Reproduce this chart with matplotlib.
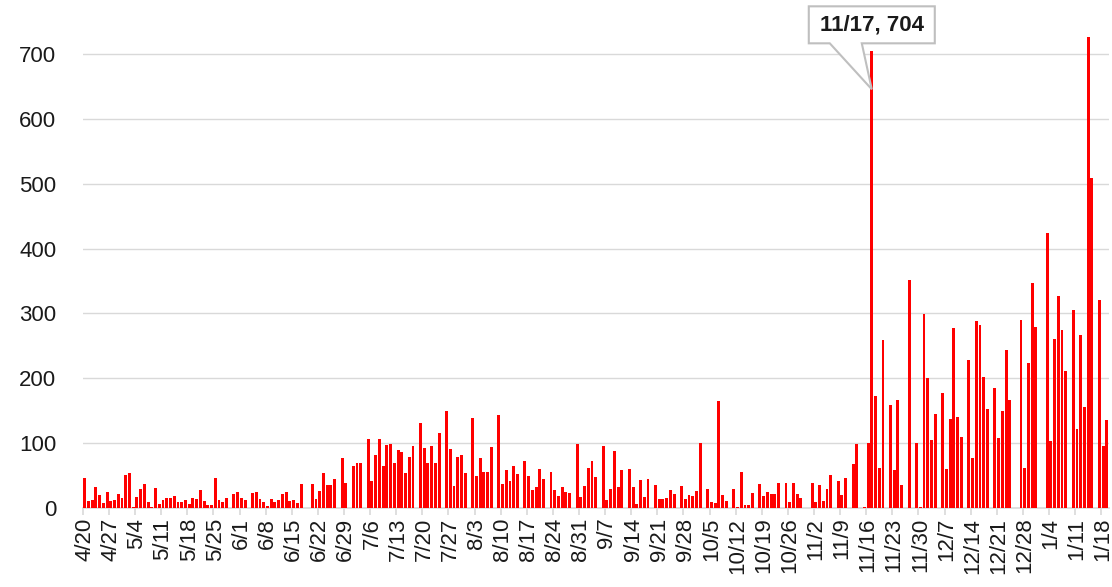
import numpy as np
import pandas as pd
import matplotlib.pyplot as plt
import matplotlib.transforms as mtransforms
from matplotlib.patches import Polygon

# daily counts, 4/20 through 1/19
start_date = "2020-04-20"
counts = [
    46, 11, 13, 32, 20, 8, 25, 11, 13, 22, 16, 51, 54, 2,
    17, 29, 37, 10, 1, 31, 6, 12, 15, 16, 19, 10, 9, 12,
    6, 16, 14, 28, 11, 4, 5, 47, 13, 9, 16, 0, 21, 25,
    15, 12, 0, 23, 25, 14, 9, 3, 14, 9, 13, 21, 25, 11,
    12, 8, 37, 0, 0, 37, 14, 26, 54, 35, 35, 45, 0, 77,
    39, 0, 64, 70, 70, 0, 107, 42, 82, 107, 65, 97, 98, 69,
    89, 86, 54, 79, 96, 0, 131, 92, 70, 96, 69, 115, 0, 150,
    91, 34, 78, 81, 54, 0, 139, 49, 77, 56, 55, 94, 0, 144,
    37, 58, 41, 65, 52, 0, 73, 49, 27, 32, 60, 44, 0, 56,
    27, 18, 33, 25, 23, 0, 98, 17, 34, 62, 73, 48, 0, 95,
    12, 30, 88, 32, 58, 0, 60, 33, 6, 43, 17, 44, 0, 35,
    14, 14, 16, 28, 21, 0, 34, 14, 20, 18, 26, 100, 0, 30,
    10, 8, 165, 20, 11, 0, 30, 2, 55, 5, 5, 23, 0, 37,
    18, 25, 21, 22, 38, 0, 39, 10, 38, 22, 15, 0, 0, 39,
    10, 36, 11, 29, 51, 0, 42, 20, 46, 0, 68, 99, 0, 1,
    100, 704, 173, 62, 259, 0, 158, 59, 167, 36, 0, 352, 0, 100,
    1, 299, 200, 105, 145, 0, 177, 60, 137, 278, 140, 109, 0, 228,
    77, 288, 282, 202, 152, 0, 185, 108, 150, 243, 167, 0, 0, 290,
    61, 224, 347, 279, 0, 0, 424, 104, 261, 327, 274, 211, 0, 305,
    122, 266, 155, 726, 508, 0, 320, 95, 135,
]
label_step = 7
y_ticks = [0, 100, 200, 300, 400, 500, 600, 700]
callout_day = "11/17"

dates = pd.date_range(start_date, periods=len(counts), freq="D")
day_labels = [f"{d.month}/{d.day}" for d in dates]

plt.rcParams['font.family'] = ['Liberation Sans', 'DejaVu Sans']

fig = plt.figure(figsize=(11.12, 5.87), dpi=100)
ax = fig.add_axes([0.0745, 0.1346, 0.9225, 0.8288])

x = np.arange(len(counts))
ax.bar(x, counts, width=0.78, color='#FF0000', edgecolor='none', zorder=3)

ax.set_xlim(-0.5, len(counts) - 0.5)
ax.set_ylim(0, 750)

# y axis: gridlines only
ax.set_yticks(y_ticks)
ax.set_yticklabels([str(v) for v in y_ticks], fontsize=16, color='#1a1a1a')
ax.tick_params(axis='y', length=0, pad=19)
ax.yaxis.grid(True, color='#D9D9D9', linewidth=1.0, zorder=0)
ax.set_axisbelow(True)

# x axis: weekly labels, tick marks at category boundaries
label_idx = list(range(0, len(counts), label_step))
ax.set_xticks(label_idx)
ax.set_xticklabels([day_labels[i] for i in label_idx], rotation=90,
                   fontsize=16, color='#1a1a1a')
ax.tick_params(axis='x', which='major', length=0, pad=7)
ax.set_xticks(np.arange(-0.5, len(counts), label_step), minor=True)
ax.tick_params(axis='x', which='minor', length=5, color='#D9D9D9', width=1.2)

for side in ['left', 'top', 'right']:
    ax.spines[side].set_visible(False)
ax.spines['bottom'].set_color('#D9D9D9')
ax.spines['bottom'].set_linewidth(1.2)

# data callout for the 11/17 peak (offsets in pixels from the bar top)
pk = day_labels.index(callout_day)
trans = mtransforms.Affine2D() + mtransforms.ScaledTranslation(pk, counts[pk], ax.transData)
shape = [(-63, 45), (63, 45), (63, 8), (-10, 8), (0, -38), (-42, 8), (-63, 8)]
ax.add_patch(Polygon(shape, closed=True, transform=trans, facecolor='white',
                     edgecolor='#BFBFBF', linewidth=1.5, clip_on=False, zorder=5))
ax.text(0, 26.5, f"{callout_day}, {counts[pk]}", transform=trans, ha='center',
        va='center', fontsize=16, fontweight='bold', color='#1a1a1a',
        clip_on=False, zorder=6)

fig.savefig("out.png", dpi=100)
